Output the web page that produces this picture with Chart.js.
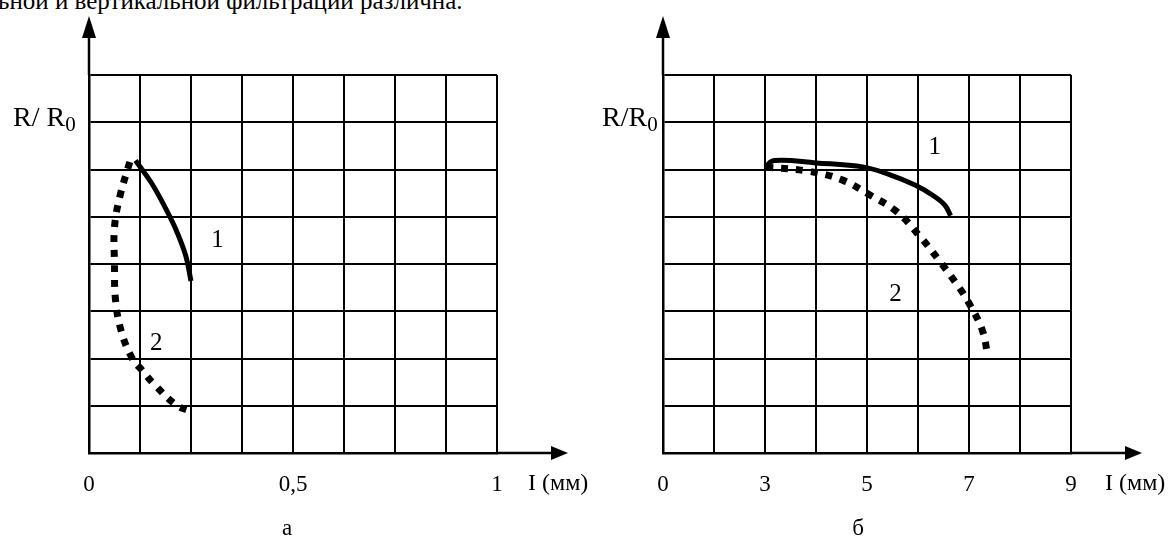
<!DOCTYPE html>
<html>
<head>
<meta charset="utf-8">
<script src="https://cdn.jsdelivr.net/npm/chart.js@4.4.0/dist/chart.umd.min.js"></script>
<style>
  html, body { margin: 0; padding: 0; background: #fff; }
  body { width: 1171px; height: 539px; position: relative; overflow: hidden; font-family: "Liberation Serif", serif; }
  #topline { position: absolute; left: -2px; top: -12px; font-size: 25px; line-height: 25px; white-space: nowrap; color: #000; }
  .panel { position: absolute; top: 0; height: 539px; }
  #left { left: 0; width: 590px; }
  #right { left: 590px; width: 581px; }
</style>
</head>
<body>
<div id="topline">ьной и вертикальной фильтрации различна.</div>
<div class="panel" id="left"><canvas id="chartA" width="590" height="539"></canvas></div>
<div class="panel" id="right"><canvas id="chartB" width="581" height="539"></canvas></div>
<script>
// панель а: I от 0 до 1 мм, 8 клеток по оси
const aTicks = [0, 0.5, 1];
const aTickLabels = ['0', '0,5', '1'];
const aCurve1X = [0.114, 0.152, 0.184, 0.213, 0.237, 0.25];
const aCurve1Y = [6.19, 5.73, 5.24, 4.73, 4.18, 3.64];
const aCurve2X = [0.1, 0.076, 0.0625, 0.0625, 0.065, 0.079, 0.106, 0.13, 0.157, 0.213, 0.25];
const aCurve2Y = [6.16, 5.44, 4.78, 4.02, 3.24, 2.58, 2.0, 1.75, 1.48, 1.02, 0.88];
const aNameX = [0.315, 0.165];
const aNameY = [4.5, 2.32];

// панель б: первая линия сетки подписана "0", дальше 2..9
const bTicks = [1, 3, 5, 7, 9];
const bTickLabels = ['0', '3', '5', '7', '9'];
const bCurve1X = [3.0, 3.18, 4.0, 4.94, 5.44, 5.94, 6.31, 6.53, 6.64];
const bCurve1Y = [6.05, 6.19, 6.14, 6.05, 5.89, 5.67, 5.44, 5.24, 5.02];
const bCurve2X = [3.02, 3.87, 4.51, 5.04, 5.58, 6.04, 6.44, 6.82, 7.0, 7.26, 7.37];
const bCurve2Y = [6.05, 5.96, 5.78, 5.47, 5.11, 4.58, 4.04, 3.48, 3.17, 2.6, 2.05];
const bNameX = [6.33, 5.56];
const bNameY = [6.47, 3.36];

const curveNames = ['1', '2'];
const SERIF = '"Liberation Serif", "Times New Roman", serif';

function toPoints(xs, ys) {
  return xs.map((x, i) => ({ x: x, y: ys[i] }));
}

// стрелки осей, подписи осей и номера кривых
const schemePlugin = {
  id: 'scheme',
  afterDraw(chart, args, opts) {
    const ctx = chart.ctx;
    const area = chart.chartArea;
    const xs = chart.scales.x, ys = chart.scales.y;
    ctx.save();
    ctx.strokeStyle = '#000';
    ctx.fillStyle = '#000';
    ctx.lineWidth = 2.5;

    // ось R/R0 вверх
    ctx.beginPath();
    ctx.moveTo(area.left, area.top);
    ctx.lineTo(area.left, 34);
    ctx.stroke();
    ctx.beginPath();
    ctx.moveTo(area.left, 16);
    ctx.lineTo(area.left - 7, 38);
    ctx.lineTo(area.left + 7, 38);
    ctx.closePath();
    ctx.fill();

    // ось I вправо
    const tip = area.right + 71;
    ctx.beginPath();
    ctx.moveTo(area.right, area.bottom);
    ctx.lineTo(tip - 12, area.bottom);
    ctx.stroke();
    ctx.beginPath();
    ctx.moveTo(tip, area.bottom);
    ctx.lineTo(tip - 17, area.bottom - 7);
    ctx.lineTo(tip - 17, area.bottom + 7);
    ctx.closePath();
    ctx.fill();

    ctx.textBaseline = 'alphabetic';
    ctx.textAlign = 'left';
    // R/R0
    ctx.font = '28px ' + SERIF;
    ctx.fillText(opts.yTitle, opts.yTitleX, 126);
    const w = ctx.measureText(opts.yTitle).width;
    ctx.font = '21px ' + SERIF;
    ctx.fillText('0', opts.yTitleX + w, 131);

    // I (мм)
    ctx.font = '24px ' + SERIF;
    ctx.fillText('I (мм)', area.right + opts.xTitleGap, 490);

    // буква панели
    ctx.textAlign = 'center';
    ctx.font = '23px ' + SERIF;
    ctx.fillText(opts.letter, opts.letterX, 535);

    // номера кривых
    ctx.font = '25px ' + SERIF;
    ctx.textBaseline = 'middle';
    opts.nameX.forEach((x, i) => {
      ctx.fillText(curveNames[i], xs.getPixelForValue(x), ys.getPixelForValue(opts.nameY[i]));
    });
    ctx.restore();
  }
};

function makeChart(id, cfg) {
  const ctx = document.getElementById(id).getContext('2d');
  return new Chart(ctx, {
    type: 'line',
    data: {
      datasets: [{
        data: toPoints(cfg.c1x, cfg.c1y),
        borderColor: '#000',
        borderWidth: 5,
        pointRadius: 0,
        tension: 0.4,
        fill: false
      }, {
        data: toPoints(cfg.c2x, cfg.c2y),
        borderColor: '#000',
        borderWidth: 7,
        borderDash: [7, 8],
        borderCapStyle: 'butt',
        pointRadius: 0,
        tension: 0.4,
        fill: false
      }]
    },
    options: {
      responsive: false,
      animation: false,
      layout: { padding: { top: 75, right: cfg.padRight, left: 0, bottom: 0 } },
      plugins: {
        legend: { display: false },
        tooltip: { enabled: false },
        scheme: cfg.scheme
      },
      scales: {
        x: {
          type: 'linear',
          min: cfg.min,
          max: cfg.max,
          afterFit: (scale) => { scale.height = 86; },
          grid: { color: '#000', lineWidth: 2, drawTicks: false },
          border: { color: '#000', width: 2.5 },
          ticks: {
            stepSize: cfg.step,
            autoSkip: false,
            maxRotation: 0,
            padding: 18,
            color: '#000',
            font: { family: SERIF, size: 23 },
            callback: (v) => {
              const i = cfg.ticks.findIndex(t => Math.abs(t - v) < 1e-6);
              return i >= 0 ? cfg.labels[i] : '';
            }
          }
        },
        y: {
          type: 'linear',
          min: 0,
          max: 8,
          afterFit: (scale) => { scale.width = cfg.left; },
          grid: { color: '#000', lineWidth: 2, drawTicks: false },
          border: { color: '#000', width: 2.5 },
          ticks: { stepSize: 1, display: false }
        }
      }
    },
    plugins: [schemePlugin]
  });
}

makeChart('chartA', {
  c1x: aCurve1X, c1y: aCurve1Y, c2x: aCurve2X, c2y: aCurve2Y,
  min: 0, max: 1, step: 0.125, ticks: aTicks, labels: aTickLabels,
  left: 89, padRight: 93,
  scheme: { yTitle: 'R/ R', yTitleX: 13, xTitleGap: 31, letter: 'а', letterX: 287, nameX: aNameX, nameY: aNameY }
});

makeChart('chartB', {
  c1x: bCurve1X, c1y: bCurve1Y, c2x: bCurve2X, c2y: bCurve2Y,
  min: 1, max: 9, step: 1, ticks: bTicks, labels: bTickLabels,
  left: 73, padRight: 100,
  scheme: { yTitle: 'R/R', yTitleX: 12, xTitleGap: 34, letter: 'б', letterX: 268, nameX: bNameX, nameY: bNameY }
});
</script>
</body>
</html>
